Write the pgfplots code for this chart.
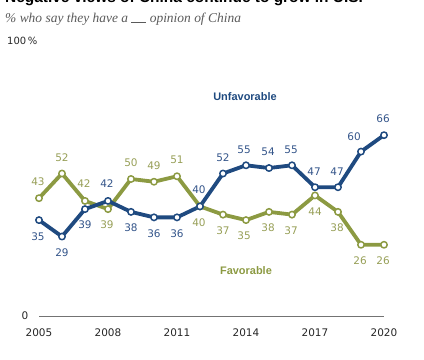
\documentclass[border=0pt]{standalone}
\usepackage{fontspec}
\setmainfont{Liberation Sans}
\newfontfamily\numfont{DejaVu Sans}
\newfontfamily\subfont{Liberation Serif}
\usepackage{pgfplots}
\usepackage{pgfplotstable}
\pgfplotsset{compat=1.18}
\definecolor{unfav}{HTML}{1F4A80}
\definecolor{fav}{HTML}{8C9A42}
\definecolor{unfavtxt}{HTML}{34558A}
\definecolor{favtxt}{HTML}{979F57}
\definecolor{subgray}{HTML}{5A5A5A}

\pgfplotstableread{
year val dx dy
2005 35 -1 -17
2006 29 0 -16
2007 39 0 -16
2008 42 -1 17
2009 38 0 -16
2010 36 0 -16
2011 36 0 -16
2012 40 -1 17
2013 52 0 16
2014 55 -2 16
2015 54 -1 16
2016 55 -1 16
2017 47 -1 16
2018 47 -1 16
2019 60 -7 15
2020 66 -1 16
}\unfavtab

\pgfplotstableread{
year val dx dy
2005 43 -1 16
2006 52 0 16
2007 42 -1 17
2008 39 -1 -16
2009 50 0 16
2010 49 0 16
2011 51 0 16
2012 40 -1 -16
2013 37 0 -16
2014 35 -2 -16
2015 38 -1 -16
2016 37 -1 -16
2017 44 0 -16
2018 38 -1 -16
2019 26 -1 -16
2020 26 -1 -16
}\favtab

\begin{document}
\begin{tikzpicture}
\path[use as bounding box] (0,0) rectangle (424bp,360bp);
\begin{axis}[
  at={(39bp,44bp)}, anchor=south west,
  scale only axis, width=345bp, height=274bp,
  xmin=2005, xmax=2020, ymin=0, ymax=100,
  clip=false,
  /pgf/number format/assume math mode=true,
  axis line style={draw=none},
  ytick=\empty,
  xtick={2005,2008,2011,2014,2017,2020},
  major tick length=0pt,
  xticklabel style={anchor=center, yshift=-17bp, font=\numfont\fontsize{10.5}{12}\selectfont, text=black!85},
  x tick label style={/pgf/number format/1000 sep={}},
]
\draw[color=black!55, line width=0.8bp] (axis cs:2005,0) -- (axis cs:2020,0);

\addplot[fav, line width=3.8bp, line join=round, mark=*, mark size=3.2bp,
  mark options={fill=white, draw=fav, line width=1.5bp},
  nodes near coords,
  visualization depends on={\thisrow{dx}\as\dx},
  visualization depends on={\thisrow{dy}\as\dy},
  every node near coord/.style={anchor=center, xshift=\dx bp, yshift=\dy bp,
     font=\numfont\fontsize{10.5}{12}\selectfont, text=favtxt}]
  table[x=year, y=val] {\favtab};

\addplot[unfav, line width=3.8bp, line join=round, mark=*, mark size=3.2bp,
  mark options={fill=white, draw=unfav, line width=1.5bp},
  nodes near coords,
  visualization depends on={\thisrow{dx}\as\dx},
  visualization depends on={\thisrow{dy}\as\dy},
  every node near coord/.style={anchor=center, xshift=\dx bp, yshift=\dy bp,
     font=\numfont\fontsize{10.5}{12}\selectfont, text=unfavtxt}]
  table[x=year, y=val] {\unfavtab};
\end{axis}

\node[anchor=base west, inner sep=0, font=\bfseries\fontsize{15.5}{17}\selectfont] at (5bp,357bp) {Negative views of China continue to grow in U.S.};
\node[anchor=west, inner sep=0, font=\subfont\itshape\fontsize{13.5}{15}\selectfont, text=subgray] at (5bp,341bp) {\% who say they have a \rule[-0.5bp]{15bp}{0.6bp} opinion of China};
\node[anchor=west, inner sep=0, font=\numfont\fontsize{10}{12}\selectfont, text=black!85] at (7bp,319bp) {100\,\%};
\node[inner sep=0, font=\numfont\fontsize{10.5}{12}\selectfont, text=black!85] at (25bp,44bp) {0};
\node[inner sep=0, font=\bfseries\fontsize{11}{13}\selectfont, text=unfav] at (245bp,263bp) {Unfavorable};
\node[inner sep=0, font=\bfseries\fontsize{11}{13}\selectfont, text=fav] at (246bp,89bp) {Favorable};
\end{tikzpicture}
\end{document}
